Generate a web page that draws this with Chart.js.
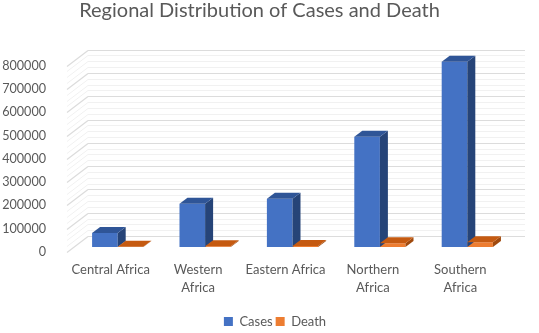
<!DOCTYPE html>
<html>
<head>
<meta charset="utf-8">
<title>Regional Distribution of Cases and Death</title>
<script src="https://cdn.jsdelivr.net/npm/chart.js@4"></script>
<style>
    html, body { margin: 0; padding: 0; background: #fff; overflow: hidden; }
    canvas { display: block; }
</style>
</head>
<body>
<canvas id="regionChart" width="539" height="333"></canvas>
<script>
const regions = ['Central Africa', ['Western', 'Africa'], 'Eastern Africa', ['Northern', 'Africa'], ['Southern', 'Africa']];
const cases = [60000, 186000, 207000, 473000, 795000];
const deaths = [1000, 3000, 4000, 16000, 20000];
const minorTicks = [25000, 50000, 75000];

// 3D look: wall and floor depth, and how far the bars sit inside it
const wallDepth = { x: 21, y: -16 };
const barShift = { x: 7, y: -5 };
const barDepth = { x: 8, y: -6 };

function drawLine(ctx, x1, y1, x2, y2) {
    ctx.beginPath();
    ctx.moveTo(x1, y1);
    ctx.lineTo(x2, y2);
    ctx.stroke();
}

function drawFace(ctx, points, color) {
    ctx.fillStyle = color;
    ctx.beginPath();
    points.forEach((p, i) => i ? ctx.lineTo(p[0], p[1]) : ctx.moveTo(p[0], p[1]));
    ctx.closePath();
    ctx.fill();
}

// Back wall and side wall grid lines
const wallPlugin = {
    id: 'wall',
    afterLayout(chart) {
        // legend and title sit off the centre of the plot in the original
        chart.legend.left += 23;
        chart.legend.right += 23;
        chart.legend.top += 7;
        chart.legend.bottom += 7;
        chart.titleBlock.left += 7.5;
        chart.titleBlock.right += 7.5;
        chart.titleBlock.top -= 1;
        chart.titleBlock.bottom -= 1;
    },
    beforeDatasetsDraw(chart) {
        const ctx = chart.ctx;
        const yScale = chart.scales.y;
        const { left, right } = chart.chartArea;
        const backRight = right + wallDepth.x;
        ctx.save();
        ctx.lineWidth = 1;

        ctx.strokeStyle = '#f1f1f1';
        yScale.ticks.forEach(tick => {
            if (tick.value >= 800000) return;
            minorTicks.forEach(step => {
                const y = Math.round(yScale.getPixelForValue(tick.value + step) + wallDepth.y) + 0.5;
                drawLine(ctx, left + wallDepth.x, y, backRight, y);
                drawLine(ctx, left, y - wallDepth.y, left + wallDepth.x, y);
            });
        });

        ctx.strokeStyle = '#dcdcdc';
        ctx.lineWidth = 1.2;
        yScale.ticks.forEach(tick => {
            const y = Math.round(yScale.getPixelForValue(tick.value) + wallDepth.y) + 0.5;
            drawLine(ctx, left + wallDepth.x, y, backRight, y);
            drawLine(ctx, left, y - wallDepth.y, left + wallDepth.x, y);
        });
        ctx.restore();

        // bars stand part way into the floor
        ctx.save();
        ctx.translate(barShift.x, barShift.y);
    },
    afterDatasetsDraw(chart) {
        const ctx = chart.ctx;
        const shades = [
            { top: '#2f5597', side: '#264478' },
            { top: '#c55a11', side: '#a04a0e' }
        ];
        chart.data.datasets.forEach((ds, i) => {
            chart.getDatasetMeta(i).data.forEach(bar => {
                const l = bar.x - bar.width / 2;
                const r = bar.x + bar.width / 2;
                const t = bar.y;
                const b = bar.base;
                const dx = barDepth.x;
                const dy = barDepth.y;
                drawFace(ctx, [[r, t], [r + dx, t + dy], [r + dx, b + dy], [r, b]], shades[i].side);
                drawFace(ctx, [[l, t], [l + dx, t + dy], [r + dx, t + dy], [r, t]], shades[i].top);
            });
        });
        ctx.restore();
    }
};

new Chart(document.getElementById('regionChart').getContext('2d'), {
    type: 'bar',
    data: {
        labels: regions,
        datasets: [
            { label: 'Cases', data: cases, backgroundColor: '#4472c4' },
            { label: 'Death', data: deaths, backgroundColor: '#ed7d31' }
        ]
    },
    options: {
        responsive: false,
        animation: false,
        layout: { padding: { left: 0, right: 35, top: 0, bottom: 2 } },
        datasets: { bar: { barPercentage: 1, categoryPercentage: 0.586 } },
        scales: {
            x: {
                grid: { display: false },
                border: { display: false },
                ticks: {
                    color: '#595959',
                    font: { family: 'Lato', size: 13, lineHeight: 1.4 },
                    padding: 1,
                    maxRotation: 0,
                    autoSkip: false
                },
                afterFit(scale) { scale.height = 53; }
            },
            y: {
                min: 0,
                max: 800000,
                grid: { display: false },
                border: { display: false },
                ticks: {
                    stepSize: 100000,
                    color: '#595959',
                    font: { family: 'Lato', size: 12.6 },
                    padding: 13,
                    callback: value => String(value)
                },
                afterFit(scale) { scale.width = 67; }
            }
        },
        plugins: {
            title: {
                display: true,
                text: 'Regional Distribution of Cases and Death',
                color: '#595959',
                font: { family: 'Lato', size: 20, weight: 'normal' },
                padding: { top: 0, bottom: 41.6 }
            },
            legend: {
                position: 'bottom',
                labels: {
                    color: '#595959',
                    font: { family: 'Lato', size: 13 },
                    boxWidth: 9,
                    boxHeight: 9,
                    padding: 3
                }
            },
            tooltip: { enabled: false }
        }
    },
    plugins: [wallPlugin]
});
</script>
</body>
</html>
